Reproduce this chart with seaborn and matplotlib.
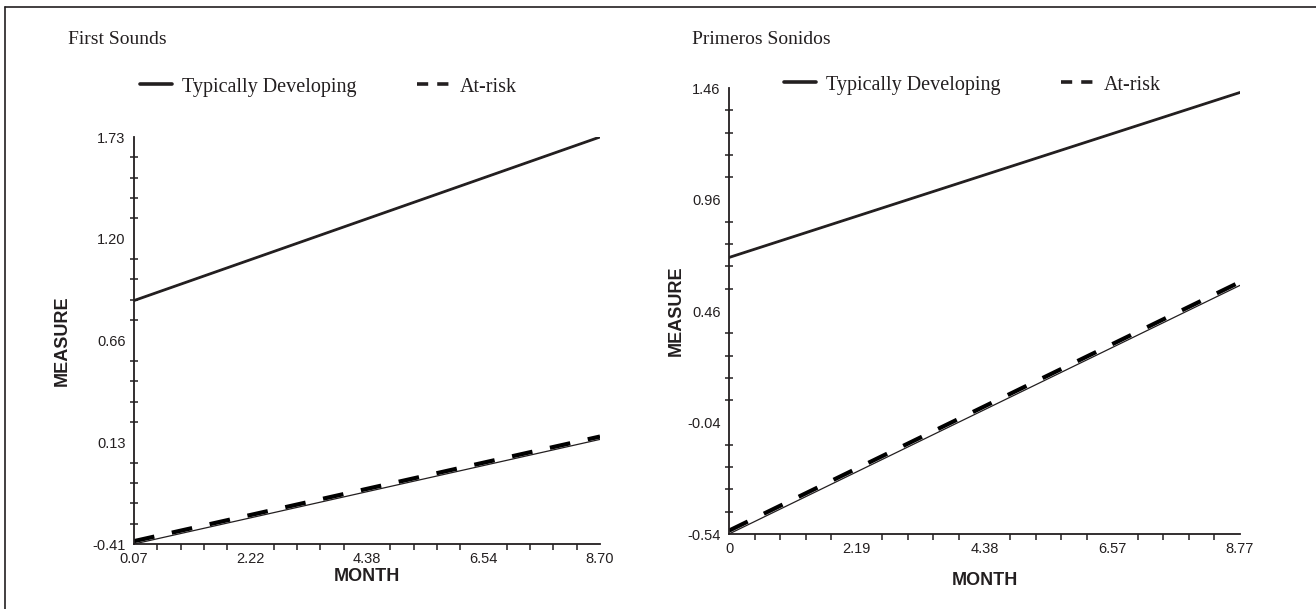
import seaborn as sns
import matplotlib.pyplot as plt
import pandas as pd
import numpy as np
from matplotlib.lines import Line2D
from matplotlib.ticker import AutoMinorLocator

# First Sounds (left panel)
fs_month = [0.07, 8.70]
fs_td = [0.87, 1.73]
fs_risk_fit = [-0.41, 0.14]
fs_risk_obs = [-0.395, 0.155]
fs_xticks = ["0.07", "2.22", "4.38", "6.54", "8.70"]
fs_yticks = ["-0.41", "0.13", "0.66", "1.20", "1.73"]

# Primeros Sonidos (right panel)
ps_month = [0.0, 8.77]
ps_td = [0.70, 1.44]
ps_risk_fit = [-0.54, 0.575]
ps_risk_obs = [-0.525, 0.59]
ps_xticks = ["0", "2.19", "4.38", "6.57", "8.77"]
ps_yticks = ["-0.54", "-0.04", "0.46", "0.96", "1.46"]

INK = "#231f20"
SERIF = "Liberation Serif"
SANS = "Liberation Sans"

sns.set_theme(style="white")
plt.rcParams['font.family'] = [SANS, 'DejaVu Sans']
plt.rcParams['text.color'] = INK
plt.rcParams['axes.labelcolor'] = INK

fig = plt.figure(figsize=(13.16, 6.09), dpi=100)

# outer frame (top and left edges only, as in the scan)
fig.add_artist(Line2D([5 / 1316, 1], [1 - 7 / 609, 1 - 7 / 609], color=INK, lw=1.2,
                      transform=fig.transFigure))
fig.add_artist(Line2D([5 / 1316, 5 / 1316], [0, 1 - 7 / 609], color=INK, lw=1.2,
                      transform=fig.transFigure))

panels = [
    dict(title="First Sounds", month=fs_month, td=fs_td, fit=fs_risk_fit, obs=fs_risk_obs,
         xt=fs_xticks, yt=fs_yticks,
         rect=[134 / 1316, 1 - 544 / 609, 466 / 1316, 407 / 609],
         title_x=68, legend_x=140, legend_y=87, ylab_x=-0.155, xlab_y=-0.081),
    dict(title="Primeros Sonidos", month=ps_month, td=ps_td, fit=ps_risk_fit, obs=ps_risk_obs,
         xt=ps_xticks, yt=ps_yticks,
         rect=[729 / 1316, 1 - 534 / 609, 511 / 1316, 446 / 609],
         title_x=692, legend_x=784, legend_y=85, ylab_x=-0.104, xlab_y=-0.105),
]

for p in panels:
    ax = fig.add_axes(p["rect"])

    fit_df = pd.DataFrame({
        "MONTH": p["month"] * 2,
        "MEASURE": p["td"] + p["fit"],
        "group": ["Typically Developing"] * 2 + ["At-risk"] * 2,
    })
    obs_df = pd.DataFrame({"MONTH": p["month"], "MEASURE": p["obs"]})

    # thin fitted lines
    sns.lineplot(data=fit_df, x="MONTH", y="MEASURE", hue="group",
                 palette=[INK, INK], lw=0.9, legend=False, ax=ax)
    # heavier group lines
    sns.lineplot(data=fit_df[fit_df.group == "Typically Developing"], x="MONTH", y="MEASURE",
                 color=INK, lw=2.0, ax=ax)
    sns.lineplot(data=obs_df, x="MONTH", y="MEASURE", color="black", lw=3.0,
                 linestyle=(0, (5, 4.3)), ax=ax)

    x0, x1 = p["month"][0], p["month"][-1]
    y0, y1 = float(p["yt"][0]), float(p["yt"][-1])
    ax.set_xlim(x0, x1)
    ax.set_ylim(y0, y1)
    ax.set_xticks(np.linspace(x0, x1, 5))
    ax.set_xticklabels(p["xt"])
    ax.set_yticks(np.linspace(y0, y1, 5))
    ax.set_yticklabels(p["yt"])
    ax.xaxis.set_minor_locator(AutoMinorLocator(5))
    ax.yaxis.set_minor_locator(AutoMinorLocator(5))

    sns.despine(ax=ax)
    for s in ["left", "bottom"]:
        ax.spines[s].set_color(INK)
        ax.spines[s].set_linewidth(1.3)
    ax.tick_params(which="major", direction="out", length=5, width=1.1, color=INK,
                   labelsize=10.5, labelcolor=INK, pad=1)
    ax.tick_params(axis="x", which="minor", direction="out", length=4, width=1.1,
                   color=INK, bottom=True)
    ax.tick_params(axis="y", which="minor", direction="inout", length=6, width=1.1,
                   color=INK, left=True)

    ax.set_xlabel("MONTH", fontsize=13, fontweight="bold", va="center")
    ax.set_ylabel("MEASURE", fontsize=13, fontweight="bold", va="center")
    ax.xaxis.set_label_coords(0.5, p["xlab_y"])
    ax.yaxis.set_label_coords(p["ylab_x"], 0.5)

    fig.text(p["title_x"] / 1316, 1 - 39 / 609, p["title"], family=SERIF,
             fontsize=14, ha="left", va="center", color=INK)

    handles = [
        Line2D([], [], color=INK, lw=2.6),
        Line2D([], [], color=INK, lw=2.6, linestyle=(0, (3.1, 2.5))),
    ]
    fig.legend(handles, ["Typically Developing", "At-risk"], ncol=2, frameon=False,
               loc="center left",
               bbox_to_anchor=(p["legend_x"] / 1316, 1 - p["legend_y"] / 609),
               prop={"family": SERIF, "size": 14.5}, handlelength=1.6,
               handletextpad=0.5, columnspacing=3.0, borderpad=0, borderaxespad=0)

fig.savefig("out.png", dpi=100, facecolor="white")
